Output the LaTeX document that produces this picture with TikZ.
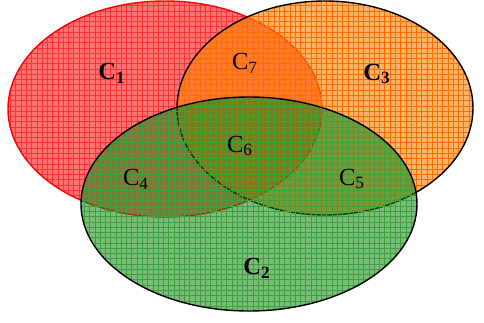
\documentclass[tikz,border=0pt]{standalone}
\usepackage{fontspec}
\setmainfont{Liberation Serif}
\usetikzlibrary{patterns}
\begin{document}
\begin{tikzpicture}[x=0.02cm, y=-0.02cm, font=\fontsize{14}{16}\selectfont, line join=round, line cap=round]
\useasboundingbox (0,0) rectangle (484,322);
\coordinate (O1) at (165,109);
\coordinate (O3) at (325,108);
\coordinate (O2) at (249,204);
% C1
\fill[red, fill opacity=0.55] (O1) ellipse [x radius=157, y radius=108];
\fill[pattern=grid, pattern color=red!80] (O1) ellipse [x radius=157, y radius=108];
\draw[red, thick] (O1) ellipse [x radius=157, y radius=108];
% C3
\fill[orange, fill opacity=0.6] (O3) ellipse [x radius=148, y radius=107];
\fill[pattern=grid, pattern color=orange!85!red] (O3) ellipse [x radius=148, y radius=107];
\draw[thick] (O3) ellipse [x radius=148, y radius=107];
% C2
\fill[green!50!black, fill opacity=0.52] (O2) ellipse [x radius=168, y radius=107];
\fill[pattern=grid, pattern color=green!50!black!75] (O2) ellipse [x radius=168, y radius=107];
\draw[thick] (O2) ellipse [x radius=168, y radius=107];
\node[font=\fontsize{14}{16}\selectfont\bfseries] (c1) at (112,73) {C\textsubscript{1}};
\node[font=\fontsize{14}{16}\selectfont\bfseries] (c3) at (377,74) {C\textsubscript{3}};
\node[font=\fontsize{14}{16}\selectfont\bfseries] (c2) at (257,268) {C\textsubscript{2}};
\node (c7) at (245,63) {C\textsubscript{7}};
\node (c6) at (240,146) {C\textsubscript{6}};
\node (c4) at (136,179) {C\textsubscript{4}};
\node (c5) at (352,179) {C\textsubscript{5}};
\end{tikzpicture}
\end{document}
